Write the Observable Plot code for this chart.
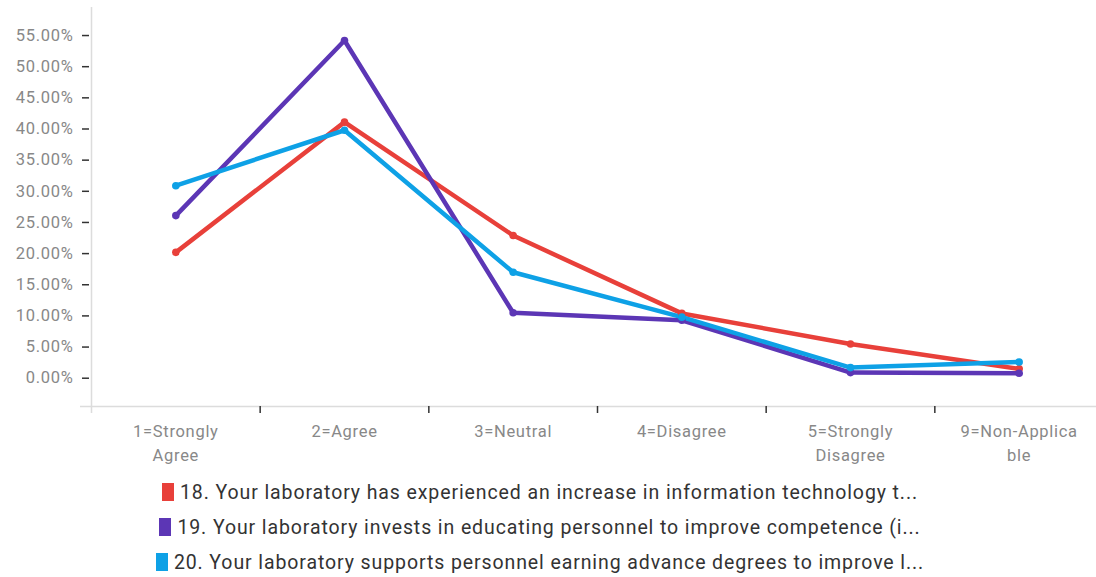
<!DOCTYPE html>
<html>
<head>
<meta charset="utf-8">
<script src="https://cdn.jsdelivr.net/npm/d3@7"></script>
<script src="https://cdn.jsdelivr.net/npm/@observablehq/plot@0.6"></script>
<style>
  body { margin: 0; background: #fff; font-family: Roboto, "Noto Sans", sans-serif; }
  #chart svg { display: block; }
  #chart svg text { letter-spacing: 0.7px; }
  #legend { width: 1080px; text-align: center; padding-top: 5px; }
  .row { height: 35px; line-height: 35px; font-size: 19.5px; color: #333; white-space: nowrap; letter-spacing: 0.9px; }
  .sw { display: inline-block; width: 12px; height: 18px; vertical-align: -2px; margin-right: 6px; }
</style>
</head>
<body>
<div id="chart"></div>
<div id="legend"></div>
<script>
const categories = ["1=Strongly\nAgree", "2=Agree", "3=Neutral", "4=Disagree", "5=Strongly\nDisagree", "9=Non-Applica\nble"];
const seriesNames = [
  "18. Your laboratory has experienced an increase in information technology t...",
  "19. Your laboratory invests in educating personnel to improve competence (i...",
  "20. Your laboratory supports personnel earning advance degrees to improve l..."
];
const q18 = [20.2, 41.1, 22.9, 10.4, 5.5, 1.5];
const q19 = [26.1, 54.2, 10.5, 9.3, 0.9, 0.8];
const q20 = [30.9, 39.8, 17.0, 9.8, 1.7, 2.6];
const colors = ["#e8403a", "#5c36b5", "#0ea1e6"];
const yTicks = [0, 5, 10, 15, 20, 25, 30, 35, 40, 45, 50, 55];

const seriesValues = [q18, q19, q20];
const data = [];
seriesValues.forEach((vals, s) => vals.forEach((v, i) => data.push({series: seriesNames[s], idx: i, value: v})));

const yMin = -4.54, yMax = 59.5;
const boundaries = d3.range(0.5, categories.length - 1, 1);

const plot = Plot.plot({
  width: 1096,
  height: 470,
  marginLeft: 91,
  marginRight: 0,
  marginTop: 7,
  marginBottom: 64,
  style: {fontFamily: "Roboto, sans-serif", fontSize: "16.5px", color: "#888"},
  x: {domain: [-0.5, categories.length - 0.5], range: [91, 1103], axis: null},
  y: {domain: [yMin, yMax], axis: null},
  color: {domain: seriesNames, range: colors},
  marks: [
    Plot.ruleX([-0.5], {stroke: "#dcdcdc", strokeWidth: 1.5, insetBottom: -7}),
    Plot.ruleY([yMin], {stroke: "#dcdcdc", strokeWidth: 1.5, insetLeft: -11}),
    Plot.axisY({ticks: yTicks, tickFormat: d => d.toFixed(2) + "%", tickSize: 7, tickPadding: 9, stroke: "#333", strokeWidth: 1.5, fill: "#888", fontSize: 16.5, label: null, anchor: "left", dx: -2}),
    Plot.axisX({ticks: boundaries, tickFormat: () => "", tickSize: 7, stroke: "#333", strokeWidth: 1.5, label: null, anchor: "bottom"}),
    Plot.text(categories, {x: (d, i) => i, y: yMin, text: d => d, dy: 14, lineAnchor: "top", lineHeight: 1.45, fill: "#888", fontSize: 16.5}),
    Plot.line(data, {x: "idx", y: "value", z: "series", stroke: "series", strokeWidth: 4.5, curve: "linear"}),
    Plot.dot(data, {x: "idx", y: "value", fill: "series", r: 3.8})
  ]
});
document.getElementById("chart").appendChild(plot);

const legend = document.getElementById("legend");
seriesNames.forEach((name, i) => {
  const row = document.createElement("div");
  row.className = "row";
  const sw = document.createElement("span");
  sw.className = "sw";
  sw.style.background = colors[i];
  row.appendChild(sw);
  row.appendChild(document.createTextNode(name));
  legend.appendChild(row);
});
</script>
</body>
</html>
